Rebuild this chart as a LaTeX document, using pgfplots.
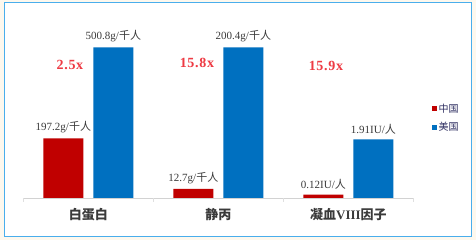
\documentclass[border=0pt]{standalone}
\usepackage{fontspec}
\usepackage{pgfplots}
\pgfplotsset{compat=1.18}
\setmainfont{Liberation Serif}
\newfontfamily\cjk{Noto Sans CJK SC}
\newfontfamily\mulf[LetterSpace=5]{Liberation Serif}
\definecolor{cnred}{HTML}{C00000}
\definecolor{usblue}{HTML}{0070C0}
\definecolor{multred}{HTML}{EE3A43}
\definecolor{cream}{HTML}{FDF8EE}
\definecolor{frameblue}{HTML}{4AAEEC}
\definecolor{labgray}{HTML}{3A3A3A}
\protected\def\qr{{\cjk 千人}}
\protected\def\rn{{\cjk 人}}
\begin{document}
\begin{tikzpicture}[x=1pt,y=1pt]
\fill[cream] (0,0) rectangle (476,240);
\useasboundingbox (0,0) rectangle (476,240);
\fill[white] (4,3) rectangle (471,237);
\draw[frameblue, line width=1pt] (4,3) rectangle (471,237);
\begin{axis}[
  at={(18,42)}, anchor=south west,
  scale only axis, width=390pt, height=180pt,
  xmin=-0.5, xmax=2.5, ymin=0, ymax=180,
  clip=false,
  axis y line=none,
  axis x line*=bottom,
  x axis line style={draw=gray!35, -},
  ybar=10pt, bar width=40pt,
  xtick={0,1,2},
  xticklabels={{\cjk\bfseries 白蛋白},{\cjk\bfseries 静丙},{{\cjk\bfseries 凝血}{\bfseries VIII}{\cjk\bfseries 因子}}},
  xticklabel style={font=\fontsize{13}{13}\selectfont, text=labgray, yshift=-7pt},
  major tick length=0pt,
  extra x ticks={-0.5,0.5,1.5,2.5},
  extra x tick labels={},
  extra x tick style={major tick length=4pt, tick style={draw=gray!25}, tick align=outside},
  point meta=explicit symbolic,
  nodes near coords,
  nodes near coords style={anchor=south, inner sep=0pt, yshift=5pt, font=\fontsize{11}{11}\selectfont, text=labgray},
  legend style={at={(1.046,0.444)}, anchor=west, draw=none, fill=none,
    font=\fontsize{10}{10}\selectfont\cjk, text=labgray!80!blue, row sep=5pt,
    inner sep=0pt, nodes={inner xsep=2pt}},
  legend image code/.code={\fill[#1] (0pt,-2.5pt) rectangle (5pt,2.5pt);},
]
\addplot[fill=cnred, draw=none]
  coordinates {(0,59.7) [197.2g/\qr] (1,9) [12.7g/\qr] (2,3.3) [0.12IU/\rn]};
\addlegendentry{中国}
\addplot[fill=usblue, draw=none]
  coordinates {(0,150.7) [500.8g/\qr] (1,150.7) [200.4g/\qr] (2,58.7) [1.91IU/\rn]};
\addlegendentry{美国}
\node[text=multred, font=\mulf\bfseries\fontsize{14}{14}\selectfont] at (axis cs:-0.142,133) {2.5x};
\node[text=multred, font=\mulf\bfseries\fontsize{14}{14}\selectfont] at (axis cs:0.835,135) {15.8x};
\node[text=multred, font=\mulf\bfseries\fontsize{14}{14}\selectfont] at (axis cs:1.827,132) {15.9x};
\end{axis}
\end{tikzpicture}
\end{document}
